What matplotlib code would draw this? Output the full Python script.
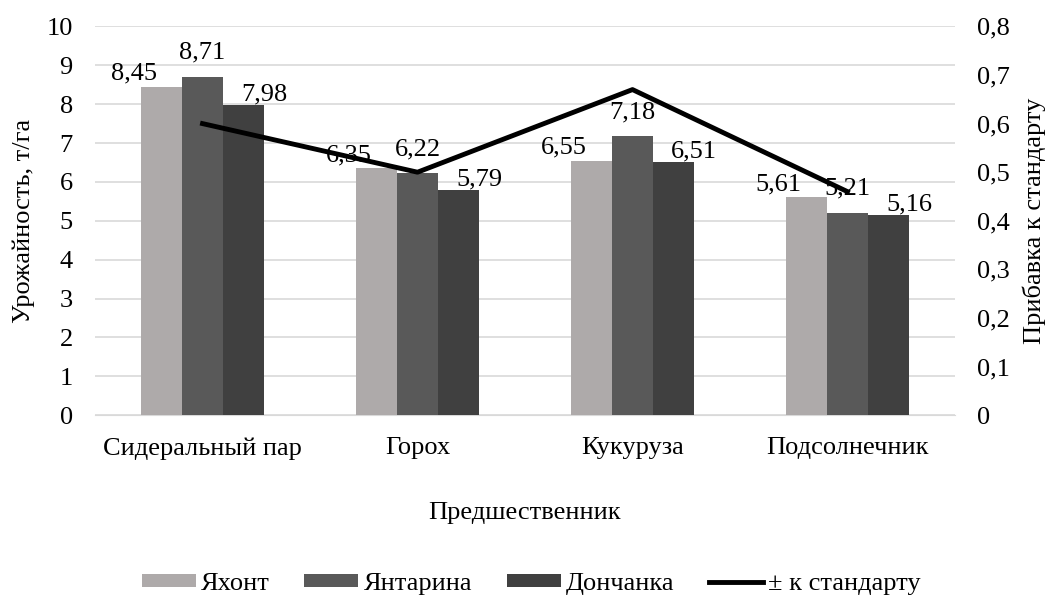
import matplotlib.pyplot as plt
import numpy as np
from matplotlib.ticker import FuncFormatter

plt.rcParams['font.family'] = ['Liberation Serif', 'DejaVu Serif']
plt.rcParams['font.size'] = 19

# данные
predecessors = ['Сидеральный пар', 'Горох', 'Кукуруза', 'Подсолнечник']
yakhont = [8.45, 6.35, 6.55, 5.61]
yantarina = [8.71, 6.22, 7.18, 5.21]
donchanka = [7.98, 5.79, 6.51, 5.16]
plus_standard = [0.60, 0.50, 0.67, 0.46]

series_names = ['Яхонт', 'Янтарина', 'Дончанка']
colors = ['#AEAAAA', '#595959', '#404040']
# смещение подписей (в пунктах) как в Excel
label_shift = [(-20, 5), (0, 13), (15, 3)]


def comma(v, pos=None):
    s = ('%.2f' % v).rstrip('0').rstrip('.')
    return s.replace('.', ',')


fig = plt.figure(figsize=(10.5, 6), dpi=100)
ax = fig.add_axes([0.0905, 0.308, 0.819, 0.648])
ax2 = ax.twinx()

x = np.arange(len(predecessors))
w = 0.19
handles = []
for i, vals in enumerate([yakhont, yantarina, donchanka]):
    bars = ax.bar(x + (i - 1) * w, vals, w, color=colors[i], label=series_names[i], zorder=3)
    handles.append(bars)
    for b, v in zip(bars, vals):
        ax.annotate(('%.2f' % v).replace('.', ','), (b.get_x() + b.get_width() / 2, v),
                    xytext=label_shift[i], textcoords='offset points',
                    ha='center', va='baseline', fontsize=19, zorder=5)

line, = ax2.plot(x, plus_standard, color='black', lw=3.5, label='± к стандарту', zorder=4)
handles.append(line)

ax.set_xlim(-0.5, 3.5)
ax.set_ylim(0, 10)
ax.set_yticks(range(0, 11))
ax2.set_ylim(0, 0.8)
ax2.set_yticks(np.arange(0, 0.81, 0.1))
ax2.yaxis.set_major_formatter(FuncFormatter(comma))

ax.set_xticks(x)
ax.set_xticklabels(predecessors)
ax.grid(axis='y', color='#D9D9D9', lw=1.2, zorder=0)
ax.set_axisbelow(True)

for a in (ax, ax2):
    for sp in a.spines.values():
        sp.set_visible(False)
    a.tick_params(length=0, labelsize=19)
ax.spines['bottom'].set_visible(True)
ax.spines['bottom'].set_color('#D9D9D9')
ax.tick_params(axis='x', pad=16)
ax.tick_params(axis='y', pad=16)
ax2.tick_params(axis='y', pad=16)
ax.set_zorder(ax2.get_zorder() - 1)
ax.patch.set_visible(False)

ax.set_ylabel('Урожайность, т/га', fontsize=19, labelpad=8)
ax2.set_ylabel('Прибавка к стандарту', fontsize=19, labelpad=9)
ax.set_xlabel('Предшественник', fontsize=19, labelpad=30)

fig.legend(handles, [h.get_label() for h in handles], loc='center',
           bbox_to_anchor=(0.506, 0.026), ncol=4, frameon=False, fontsize=19,
           handlelength=2.05, handleheight=0.38, columnspacing=1.3, handletextpad=0.2,
           borderpad=0)

fig.savefig('out.png', dpi=100)
